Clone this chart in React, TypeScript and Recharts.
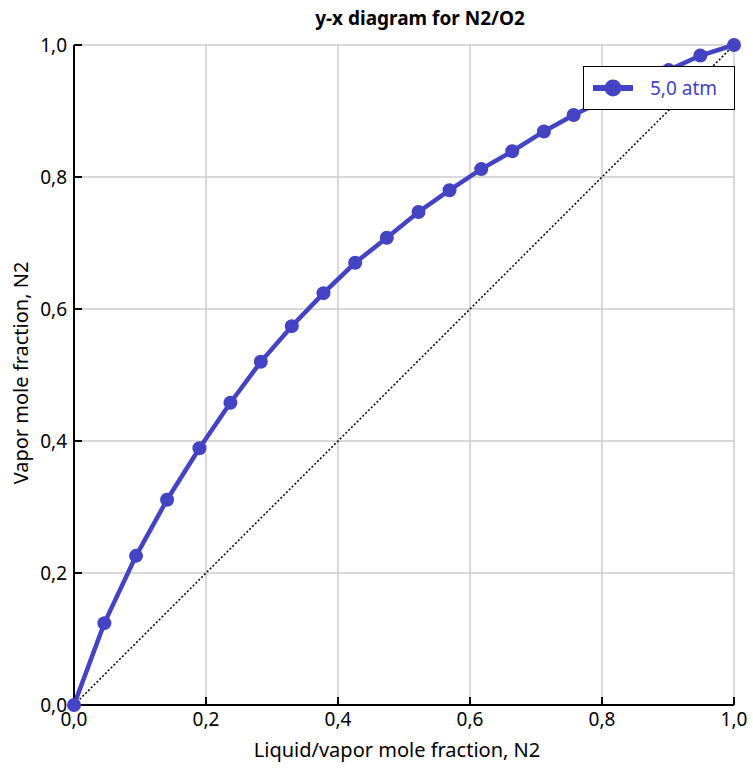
import React from 'react';
import { LineChart, Line, XAxis, YAxis, CartesianGrid, Legend } from 'recharts';

// liquid mole fraction N2 (x) and vapor mole fraction N2 (y), 5.0 atm
const xLiquid = [0, 0.046, 0.094, 0.141, 0.19, 0.237, 0.283, 0.33, 0.378, 0.426, 0.474, 0.522, 0.569, 0.617, 0.664, 0.712, 0.757, 0.805, 0.853, 0.901, 0.949, 1.0];
const yVapor = [0, 0.124, 0.226, 0.311, 0.389, 0.458, 0.52, 0.574, 0.624, 0.67, 0.708, 0.747, 0.78, 0.812, 0.839, 0.869, 0.894, 0.917, 0.94, 0.962, 0.984, 1.0];
const ticks = [0, 0.2, 0.4, 0.6, 0.8, 1.0];
const seriesName = '5,0 atm';

const BLUE = '#4343c4';
const FONT = '"Noto Sans", "Open Sans", sans-serif';

const curve = xLiquid.map((x, i) => ({ x, y: yVapor[i] }));
const diagonal = [{ x: 0, y: 0 }, { x: 1, y: 1 }];

const fmt = (v: number) => v.toFixed(1).replace('.', ',');

const LegendBox = () => (
  <div style={{
    width: 152, height: 44, background: '#fff', border: '1.5px solid #000',
    display: 'flex', alignItems: 'center', boxSizing: 'border-box', fontFamily: FONT
  }}>
    <svg width={50} height={20} style={{ marginLeft: 8 }}>
      <line x1={1} y1={10} x2={41} y2={10} stroke={BLUE} strokeWidth={6} />
      <circle cx={21} cy={10} r={8.5} fill={BLUE} />
    </svg>
    <span style={{ color: BLUE, fontSize: 19, marginLeft: 8 }}>{seriesName}</span>
  </div>
);

const App: React.FC = () => {
  return (
    <div style={{ position: 'absolute', left: 0, top: 0, width: 753, height: 769, background: '#fff' }}>
      <div style={{
        position: 'absolute', left: 420, top: 5, transform: 'translateX(-50%)',
        fontFamily: FONT, fontWeight: 'bold', fontSize: 19, whiteSpace: 'nowrap'
      }}>
        y-x diagram for N2/O2
      </div>
      <LineChart width={753} height={769} margin={{ top: 45, right: 19, bottom: 24, left: 14 }}>
        <CartesianGrid stroke="#cccccc" strokeWidth={1.5} />
        <XAxis
          type="number"
          dataKey="x"
          domain={[0, 1]}
          ticks={ticks}
          tickFormatter={fmt}
          height={40}
          stroke="#000"
          strokeWidth={2}
          tickSize={-8}
          tickMargin={16}
          tick={{ fill: '#000', fontSize: 19, fontFamily: FONT }}
          label={{ value: 'Liquid/vapor mole fraction, N2', position: 'bottom', offset: -2, dx: -7, fill: '#000', fontSize: 20, fontFamily: FONT }}
        />
        <YAxis
          type="number"
          dataKey="y"
          domain={[0, 1]}
          ticks={ticks}
          tickFormatter={fmt}
          width={60}
          stroke="#000"
          strokeWidth={2}
          tickSize={-8}
          tickMargin={15}
          tick={{ fill: '#000', fontSize: 19, fontFamily: FONT }}
          label={{ value: 'Vapor mole fraction, N2', angle: -90, position: 'center', dx: -23, dy: -2, fill: '#000', fontSize: 20, fontFamily: FONT }}
        />
        <Legend
          layout="vertical"
          align="center"
          verticalAlign="middle"
          wrapperStyle={{ left: 583, top: 66, width: 152 }}
          content={() => <LegendBox />}
        />
        <Line
          data={diagonal}
          dataKey="y"
          stroke="#000"
          strokeWidth={1.5}
          strokeDasharray="2 2"
          dot={false}
          legendType="none"
          isAnimationActive={false}
        />
        <Line
          data={curve}
          dataKey="y"
          name={seriesName}
          stroke={BLUE}
          strokeWidth={4.5}
          dot={{ r: 7, fill: BLUE, stroke: 'none' }}
          isAnimationActive={false}
        />
      </LineChart>
    </div>
  );
};

export default App;
